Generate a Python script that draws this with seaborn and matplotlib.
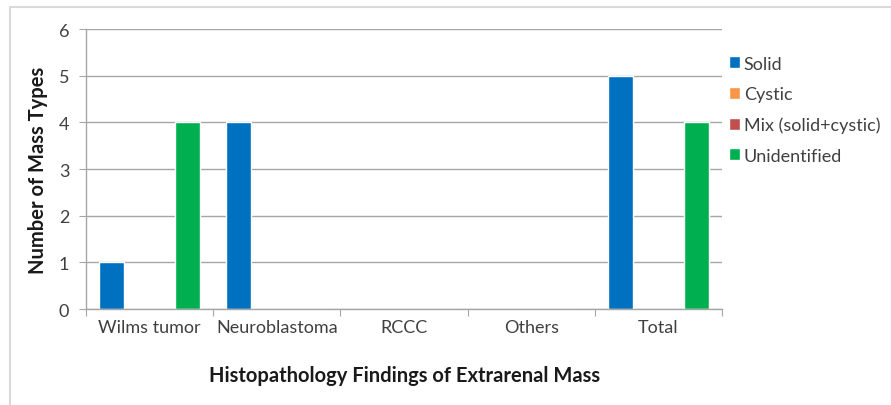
import pandas as pd
import matplotlib.pyplot as plt
import seaborn as sns
from matplotlib.lines import Line2D

#%% data
categories = ['Wilms tumor', 'Neuroblastoma', 'RCCC', 'Others', 'Total']
series = ['Solid', 'Cystic', 'Mix (solid+cystic)', 'Unidentified']
solid = [1, 4, 0, 0, 5]
cystic = [0, 0, 0, 0, 0]
mix = [0, 0, 0, 0, 0]
unidentified = [4, 0, 0, 0, 4]
colors = ['#0070C0', '#F79646', '#C0504D', '#00B050']

#%% long-form table
df = pd.DataFrame({'Solid': solid, 'Cystic': cystic,
                   'Mix (solid+cystic)': mix, 'Unidentified': unidentified},
                  index=categories)
df = df.reset_index().melt(id_vars='index', var_name='Type', value_name='Count')
df = df.rename(columns={'index': 'Finding'})

#%% plot
sns.set_style('white')
plt.rcParams['font.family'] = ['Lato', 'DejaVu Sans']

fig = plt.figure(figsize=(8.91, 4.06), dpi=100)
ax = fig.add_axes([0.0965, 0.236, 0.714, 0.69])

sns.barplot(data=df, x='Finding', y='Count', hue='Type', hue_order=series,
            palette=colors, width=0.8, ax=ax, saturation=1, legend=True)

ax.set_ylim(0, 6)
ax.set_yticks(range(0, 7))
ax.set_xlim(-0.5, len(categories) - 0.5)
ax.yaxis.grid(True, color='#A6A6A6', linewidth=1)
ax.set_axisbelow(True)
for s in ['top', 'right']:
    ax.spines[s].set_visible(False)
for s in ['left', 'bottom']:
    ax.spines[s].set_color('#A6A6A6')
    ax.spines[s].set_linewidth(1)

# category boundary ticks on x
ax.set_xticks([i - 0.5 for i in range(len(categories) + 1)], minor=False)
ax.set_xticklabels([])
ax.set_xticks(range(len(categories)), minor=True)
ax.set_xticklabels(categories, minor=True, fontsize=13, color='#404040')
ax.tick_params(axis='x', which='major', length=5, color='#A6A6A6', direction='out', bottom=True)
ax.tick_params(axis='x', which='minor', length=0, pad=7)
ax.tick_params(axis='y', length=5, color='#A6A6A6', direction='out', left=True, labelsize=13,
               labelcolor='#404040', pad=7)

ax.set_xlabel('Histopathology Findings of Extrarenal Mass', fontsize=14.5, fontweight='bold',
              labelpad=22, color='#1a1a1a')
ax.set_ylabel('Number of Mass Types', fontsize=14.5, fontweight='bold', labelpad=8, color='#1a1a1a')

leg = ax.legend(loc='upper left', bbox_to_anchor=(1.01, 0.905), frameon=False, fontsize=13,
                handlelength=0.65, handleheight=0.65, handletextpad=0.2, labelspacing=0.8,
                borderaxespad=0, borderpad=0)
for t in leg.get_texts():
    t.set_color('#404040')

# outer frame (top and left edges only visible)
fig.lines.append(Line2D([0.011, 1.0], [0.98, 0.98], transform=fig.transFigure,
                        color='#D9D9D9', linewidth=1.5))
fig.lines.append(Line2D([0.011, 0.011], [0.0, 0.98], transform=fig.transFigure,
                        color='#D9D9D9', linewidth=1.5))

plt.savefig('out.png', dpi=100)
